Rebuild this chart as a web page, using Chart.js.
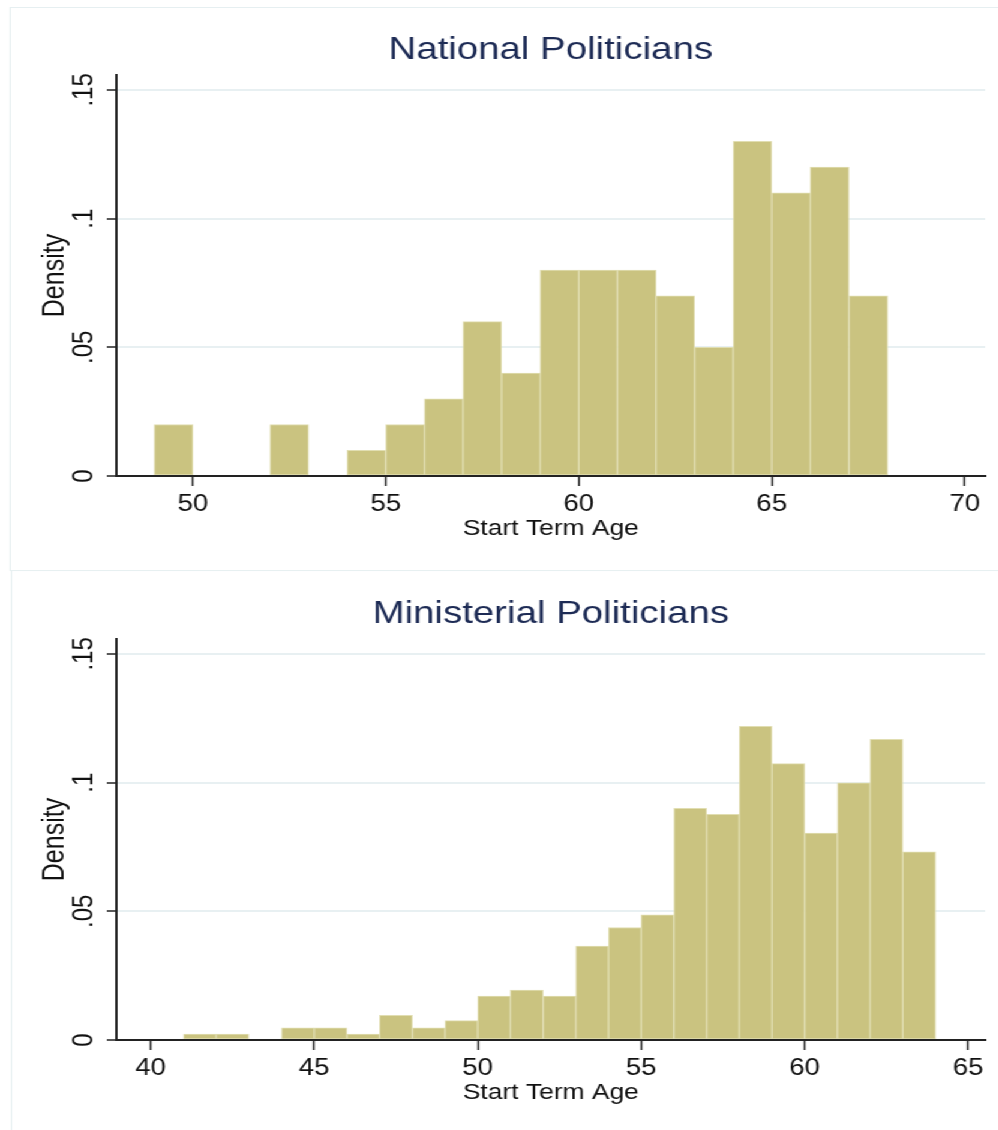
<!DOCTYPE html>
<html>
<head>
<meta charset="utf-8">
<title>Start Term Age</title>
<script src="https://cdn.jsdelivr.net/npm/chart.js@4/dist/chart.umd.min.js"></script>
<style>
  html, body { margin: 0; padding: 0; background: #fff; overflow: hidden; }
  /* graph is laid out narrow, then widened */
  #page { position: relative; width: 832px; height: 1130px; transform: scaleX(1.2); transform-origin: 0 0; }
  .panel { position: absolute; border: 1.5px solid #e6eff1; box-sizing: border-box; }
  .plot { position: absolute; left: 0; width: 832px; height: 565px; }
</style>
</head>
<body>
<div id="page">
  <div class="panel" style="left:8px; top:7px; width:900px; height:564px;"></div>
  <div class="panel" style="left:9px; top:570px; width:900px; height:600px;"></div>
  <div class="plot" style="top:0"><canvas id="chartNational" width="832" height="565"></canvas></div>
  <div class="plot" style="top:564px"><canvas id="chartMinister" width="832" height="565"></canvas></div>
</div>
<script>
const FONT = "'Liberation Sans', Arial, sans-serif";

// National politicians: bin start (age) and density
const nationalBins = [49, 50, 51, 52, 53, 54, 55, 56, 57, 58, 59, 60, 61, 62, 63, 64, 65, 66, 67];
const nationalDensity = [0.02, 0, 0, 0.02, 0, 0.01, 0.02, 0.03, 0.06, 0.04, 0.08, 0.08, 0.08, 0.07, 0.05, 0.13, 0.11, 0.12, 0.07];
const nationalTicks = [50, 55, 60, 65, 70];

// Ministerial politicians
const ministerBins = [41, 42, 43, 44, 45, 46, 47, 48, 49, 50, 51, 52, 53, 54, 55, 56, 57, 58, 59, 60, 61, 62, 63];
const ministerDensity = [0.0023, 0.0023, 0, 0.0047, 0.0047, 0.0023, 0.0096, 0.0047, 0.0075, 0.0171, 0.0194, 0.0171,
  0.0365, 0.0437, 0.0486, 0.0900, 0.0877, 0.1219, 0.1074, 0.0804, 0.0999, 0.1168, 0.0731];
const ministerTicks = [40, 45, 50, 55, 60, 65];

const yTicks = [0, 0.05, 0.1, 0.15];
const yLabels = ["0", ".05", ".1", ".15"];

function histogram(id, judul, bins, density, xMin, xMax, xTicks) {
  const points = bins.map((b, i) => ({ x: b + 0.5, y: density[i] }));
  return new Chart(document.getElementById(id), {
    type: "bar",
    data: {
      datasets: [{
        data: points,
        backgroundColor: "#cac380",
        borderColor: "#e1deb2",
        borderWidth: 1,
        borderSkipped: false,
        barPercentage: 1,
        categoryPercentage: 1
      }]
    },
    options: {
      responsive: false,
      animation: false,
      events: [],
      layout: { padding: { left: 0, top: 0, right: 11, bottom: 0 } },
      plugins: {
        legend: { display: false },
        tooltip: { enabled: false },
        title: {
          display: true, text: judul, fullSize: false, color: "#1d2b55",
          font: { family: FONT, size: 32, weight: "normal" },
          padding: { top: 31, bottom: 5.6 }
        }
      },
      scales: {
        x: {
          type: "linear", min: xMin, max: xMax, offset: false,
          afterBuildTicks: s => { s.ticks = xTicks.map(v => ({ value: v })); },
          afterFit: s => { s.height = 89; },
          grid: { offset: false, drawOnChartArea: false, drawTicks: true, tickLength: 10, tickColor: "#222", tickWidth: 1.5 },
          border: { display: true, color: "#222", width: 2, z: 1 },
          ticks: { color: "#111", font: { family: FONT, size: 23 }, padding: 5, maxRotation: 0, autoSkip: false },
          title: {
            display: true, text: "Start Term Age", color: "#111",
            font: { family: FONT, size: 22 }, padding: { top: 0, bottom: 23 }
          }
        },
        y: {
          min: 0, max: 0.1558,
          afterBuildTicks: s => { s.ticks = yTicks.map(v => ({ value: v })); },
          afterFit: s => { s.width = 97; },
          grid: { color: "#e8f0f2", lineWidth: 2, tickColor: "#222", tickWidth: 1.5, tickLength: 8 },
          border: { display: true, color: "#222", width: 2, z: 1 },
          ticks: {
            color: "#111", font: { family: FONT, size: 24 },
            minRotation: 90, maxRotation: 90, crossAlign: "center", padding: 2,
            callback: (v, i) => yLabels[i]
          },
          title: {
            display: true, text: "Density", color: "#111",
            font: { family: FONT, size: 25 }, padding: { top: 31, bottom: 0 }
          }
        }
      }
    }
  });
}

histogram("chartNational", "National Politicians", nationalBins, nationalDensity, 48.02, 70.53, nationalTicks);
histogram("chartMinister", "Ministerial Politicians", ministerBins, ministerDensity, 38.95, 65.52, ministerTicks);
</script>
</body>
</html>
